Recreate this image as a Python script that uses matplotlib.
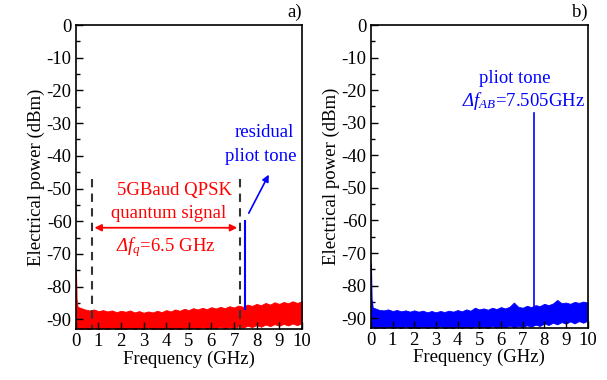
import numpy as np
import matplotlib.pyplot as plt

plt.rcParams['font.family'] = ['Liberation Serif', 'DejaVu Serif']
plt.rcParams['mathtext.fontset'] = 'custom'
plt.rcParams['mathtext.it'] = 'Liberation Serif:italic'
plt.rcParams['mathtext.rm'] = 'Liberation Serif:italic'  # so the capital Delta slants too
plt.rcParams['axes.unicode_minus'] = False

# noise floor envelopes, 0..10 GHz every 0.2 GHz
freq = np.linspace(0, 10, 51)
a_top = [-86.0, -86.5, -87.0, -87.3, -87.0, -87.5, -87.2, -87.6, -87.3, -87.8,
         -87.4, -87.7, -87.3, -87.9, -87.5, -88.0, -87.6, -87.9, -87.4, -87.8,
         -87.2, -87.6, -87.0, -87.4, -86.8, -87.2, -86.6, -87.0, -86.5, -86.9,
         -86.3, -86.7, -86.2, -86.6, -86.0, -86.4, -85.8, -86.2, -85.5, -85.9,
         -85.3, -85.7, -85.0, -85.5, -84.8, -85.3, -84.7, -85.1, -84.5, -85.0, -84.5]
a_bot = [-92.5, -93.0, -92.8, -93.0, -92.6, -93.0, -92.7, -93.0, -92.5, -93.0,
         -92.8, -93.0, -92.6, -93.0, -92.7, -93.0, -92.5, -93.0, -92.8, -93.0,
         -92.6, -93.0, -92.7, -93.0, -92.5, -92.9, -92.6, -93.0, -92.4, -92.9,
         -92.5, -92.8, -92.3, -92.8, -92.4, -92.7, -92.2, -92.6, -92.0, -92.4,
         -91.8, -92.3, -91.6, -92.1, -91.5, -92.0, -91.4, -91.9, -91.3, -91.8, -91.2]
b_top = [-86.5, -87.0, -87.5, -87.6, -87.3, -87.8, -87.5, -87.9, -87.6, -88.0,
         -87.6, -88.0, -87.7, -88.2, -87.8, -88.2, -87.8, -88.1, -87.7, -88.0,
         -87.5, -87.9, -87.3, -87.7, -86.8, -87.3, -87.0, -87.4, -86.8, -87.2,
         -86.6, -87.0, -86.5, -85.2, -86.5, -86.8, -86.2, -86.6, -86.0, -86.3,
         -85.6, -86.0, -85.5, -84.4, -85.4, -85.2, -85.6, -85.0, -85.3, -84.9, -85.2]
b_bot = [-92.5, -93.0, -92.8, -93.0, -92.6, -93.0, -92.7, -93.0, -92.5, -93.0,
         -92.8, -93.0, -92.6, -93.0, -92.7, -93.0, -92.5, -93.0, -92.8, -93.0,
         -92.6, -93.0, -92.7, -93.0, -92.5, -92.9, -92.6, -93.0, -92.4, -92.9,
         -92.5, -92.8, -92.3, -92.8, -92.4, -92.7, -92.2, -92.6, -92.0, -92.4,
         -91.6, -92.1, -91.4, -91.9, -91.2, -91.7, -91.0, -91.6, -90.9, -91.4, -90.8]

# DC spikes at 0 GHz
spike_f = [0.0, 0.03, 0.08]
a_spike = [-75.0, -84.0, -87.0]
b_spike = [-73.5, -84.0, -87.0]

# pilot tones
a_tone_f, a_tone_top, a_tone_bot = 7.5, -60.0, -87.0
b_tone_f, b_tone_top, b_tone_bot = 7.505, -27.0, -87.0

# quantum signal band edges
band_l, band_r = 0.7, 7.27

yticks = [0, -10, -20, -30, -40, -50, -60, -70, -80, -90]
xticks = list(range(0, 11))

FS = 13.5

fig = plt.figure(figsize=(6.07, 3.80), dpi=100)
ax1 = fig.add_axes([0.125, 0.134, 0.372, 0.8])
ax2 = fig.add_axes([0.611, 0.137, 0.357, 0.797])

def style(ax, ch):
    ax.set_xlim(0, 10)
    ax.set_ylim(-93, 0)
    ax.set_xticks(xticks)
    ax.set_yticks(yticks)
    ax.set_yticks(np.arange(-85, 0, 10), minor=True)
    ax.tick_params(direction='in', labelsize=FS, length=5, width=1,
                   top=False, right=False, pad=3)
    ax.tick_params(which='minor', direction='in', length=3, width=1)
    for s in ax.spines.values():
        s.set_linewidth(1.2)
    ax.set_xlabel('Frequency (GHz)', fontsize=FS, labelpad=0)
    ax.set_ylabel('Electrical power (dBm)', fontsize=FS, labelpad=1)
    ax.text(1.0, 1.015, ch, transform=ax.transAxes, ha='right', va='bottom', fontsize=FS)

# a)
ax1.fill_between(freq, a_bot, a_top, color='red', lw=0.6, edgecolor='red')
ax1.fill_betweenx([-93, -75], 0, 0.06, color='red', lw=0)
ax1.plot(spike_f, a_spike, color='red', lw=1.5)
ax1.plot([band_l, band_l], [-47, -93], color='#333333', ls='--', lw=1.5, dashes=(4, 3))
ax1.plot([band_r, band_r], [-47, -93], color='#333333', ls='--', lw=1.5, dashes=(4, 3))
ax1.plot([a_tone_f, a_tone_f], [a_tone_bot, a_tone_top], color='blue', lw=1.5)
ax1.annotate('', xy=(band_l, -62), xytext=(band_r, -62),
             arrowprops=dict(arrowstyle='<|-|>', color='red', lw=1.3, mutation_scale=10))
ax1.annotate('', xy=(8.6, -45), xytext=(7.6, -58.3),
             arrowprops=dict(arrowstyle='-|>', color='blue', lw=1.2, mutation_scale=10))
ax1.text(4.35, -50.5, '5GBaud QPSK', color='red', ha='center', va='center', fontsize=FS)
ax1.text(4.1, -57.5, 'quantum signal', color='red', ha='center', va='center', fontsize=FS)
ax1.text(4.0, -67.8, r'$Δf_q$=6.5 GHz', color='red', ha='center', va='center', fontsize=FS)
ax1.text(8.35, -33, 'residual', color='blue', ha='center', va='center', fontsize=FS)
ax1.text(8.2, -40.3, 'pliot tone', color='blue', ha='center', va='center', fontsize=FS)
style(ax1, 'a)')

# b)
ax2.fill_between(freq, b_bot, b_top, color='blue', lw=0.6, edgecolor='blue')
ax2.fill_betweenx([-93, -74], 0, 0.06, color='blue', lw=0)
ax2.plot(spike_f, b_spike, color='blue', lw=1.5)
ax2.plot([b_tone_f, b_tone_f], [b_tone_bot, b_tone_top], color='blue', lw=1.2)
ax2.text(6.65, -16.3, 'pliot tone', color='blue', ha='center', va='center', fontsize=FS)
ax2.text(7.05, -23.2, r'$Δf_{AB}$=7.505GHz', color='blue', ha='center', va='center', fontsize=FS)
style(ax2, 'b)')

plt.savefig('out.png', dpi=100)
